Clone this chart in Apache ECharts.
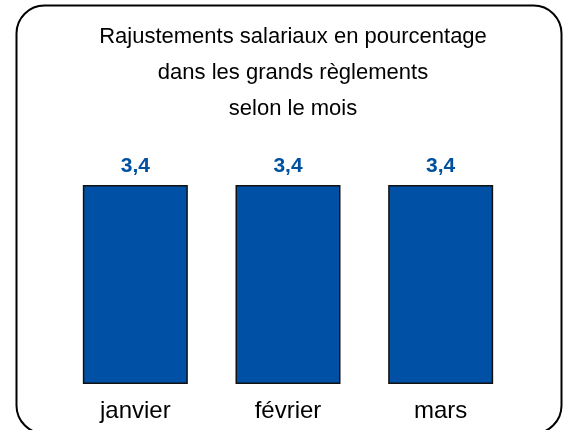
<!DOCTYPE html>
<html>
<head>
<meta charset="utf-8">
<script src="https://cdn.jsdelivr.net/npm/echarts@6/dist/echarts.min.js"></script>
<style>
  html, body { margin: 0; padding: 0; background: #fff; }
  #chart { width: 569px; height: 430px; }
</style>
</head>
<body>
<div id="chart"></div>
<script>
// données
const mois = ["janvier", "février", "mars"];
const rajustements = [3.4, 3.4, 3.4];
const titre = "Rajustements salariaux en pourcentage\ndans les grands règlements\nselon le mois";

const chart = echarts.init(document.getElementById("chart"));

const option = {
  animation: false,
  backgroundColor: "#fff",
  title: {
    text: titre,
    left: 288,
    textAlign: "center",
    top: 14,
    textStyle: {
      fontFamily: "Liberation Sans, Arial, sans-serif",
      fontSize: 22,
      fontWeight: "normal",
      color: "#000",
      lineHeight: 36
    }
  },
  graphic: [
    {
      type: "rect",
      shape: { x: 16.5, y: 5.5, width: 545, height: 428, r: 28 },
      style: { fill: "none", stroke: "#000", lineWidth: 2 },
      z: 100
    }
  ],
  grid: { left: 59, right: 52, top: 150, bottom: 46 },
  xAxis: {
    type: "category",
    data: mois,
    axisLine: { show: false },
    axisTick: { show: false },
    axisLabel: {
      color: "#000",
      fontFamily: "Liberation Sans, Arial, sans-serif",
      fontSize: 24,
      margin: 15
    }
  },
  yAxis: {
    type: "value",
    min: 0,
    max: 4,
    show: false,
    splitLine: { show: false }
  },
  series: [
    {
      type: "bar",
      data: rajustements,
      barWidth: 105,
      itemStyle: {
        color: "#0050a5",
        borderColor: "#111",
        borderWidth: 1.5
      },
      label: {
        show: true,
        position: "top",
        distance: 8,
        formatter: (p) => String(p.value).replace(".", ","),
        color: "#0050a0",
        fontFamily: "Liberation Sans, Arial, sans-serif",
        fontWeight: "bold",
        fontSize: 21
      }
    }
  ]
};

chart.setOption(option);
</script>
</body>
</html>
